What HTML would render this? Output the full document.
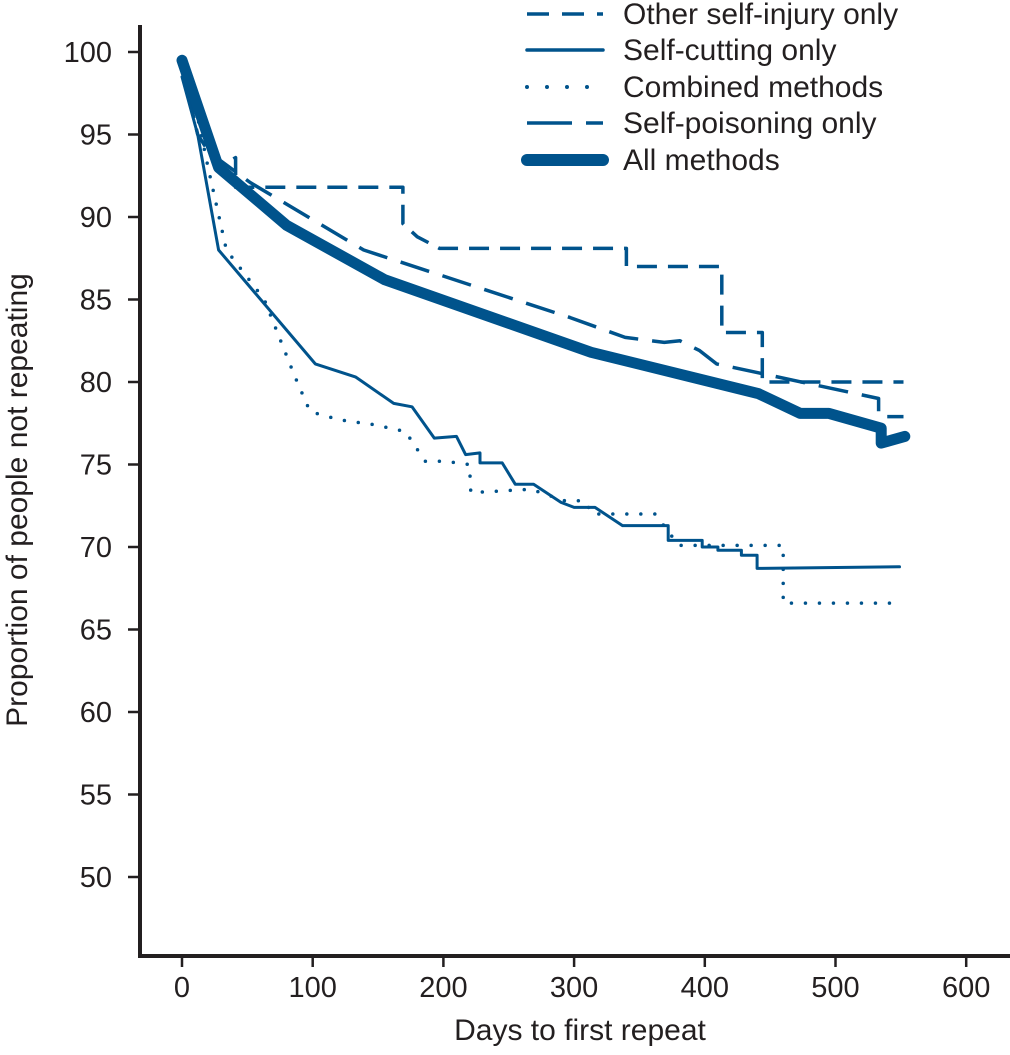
<!DOCTYPE html>
<html><head><meta charset="utf-8"><style>
html,body{margin:0;padding:0;background:#fff;}
svg text{font-family:"Liberation Sans Narrow","Liberation Sans",sans-serif;fill:#231f20;}
</style></head><body>
<svg id="chart" width="1010" height="1050" viewBox="0 0 1010 1050" xmlns="http://www.w3.org/2000/svg">
<g id="axes"></g>
<g id="series"></g>
<g id="legend"></g>
</svg>
<script>
const xTicks=[0,100,200,300,400,500,600];
const yTicks=[50,55,60,65,70,75,80,85,90,95,100];
const seriesNames=["Other self-injury only","Self-cutting only","Combined methods","Self-poisoning only","All methods"];
const otherDays=[0,12,28,41,41,50,169,169,180,197,340,340,413,413,444,444,552];
const otherVals=[99,95,93,93.6,91.8,91.8,91.8,89.6,88.8,88.1,88.1,87,87,83,83,80,80];
const cutDays=[0,12,28,102,133,162,176,193,210,217,228,228,245,255,269,290,300,316,337,372,372,398,398,410,410,428,428,440,440,549];
const cutVals=[98.5,95,88,81.1,80.3,78.7,78.5,76.6,76.7,75.6,75.7,75.1,75.1,73.8,73.8,72.7,72.4,72.4,71.3,71.3,70.4,70.4,70,70,69.8,69.8,69.5,69.5,68.7,68.8];
const combDays=[0,12,20,34,63,86,98,121,148,171,186,201,220,221,267,293,308,314,362,380,460,460,550];
const combVals=[99,96,93,88,85,80.4,78.2,77.7,77.4,77,75.2,75.2,75,73.3,73.5,72.8,72.8,72,72,70.1,70.1,66.6,66.6];
const poisDays=[0,28,52,139,297,339,369,381,396,409,533,533,552];
const poisVals=[99,93.5,92.1,88,83.9,82.7,82.4,82.5,81.9,81.1,79,77.9,77.9];
const allDays=[0,28,80,155,313,441,473,495,535,535,553];
const allVals=[99.5,93,89.5,86.2,81.8,79.3,78.1,78.1,77.2,76.3,76.7];

const X=d=>182+d*1.307;
const Y=v=>52+(100-v)*16.5;
const NS="http://www.w3.org/2000/svg";
function mk(tag,attrs,parent){const e=document.createElementNS(NS,tag);for(const k in attrs)e.setAttribute(k,attrs[k]);parent.appendChild(e);return e;}
const axes=document.getElementById('axes');
const C="#231f20",B="#00538c";
let a=mk('line',{x1:140,y1:25,x2:140,y2:958,stroke:C,'stroke-width':4},axes);


a=mk('line',{x1:138,y1:956,x2:1010,y2:956,stroke:C,'stroke-width':4},axes);


xTicks.forEach(t=>{
  const l=mk('line',{x1:X(t),y1:956,x2:X(t),y2:967,stroke:C,'stroke-width':2.5},axes);
  
  
  const tx=mk('text',{x:X(t),y:997,'text-anchor':'middle','font-size':29},axes);tx.textContent=t;
  
  
});
yTicks.forEach(t=>{
  const l=mk('line',{x1:128,y1:Y(t),x2:140,y2:Y(t),stroke:C,'stroke-width':2.5},axes);
  
  
  const tx=mk('text',{x:112,y:Y(t)+10,'text-anchor':'end','font-size':29},axes);tx.textContent=t;
  
  
});
let tt=mk('text',{x:580,y:1040,'text-anchor':'middle','font-size':30},axes);tt.textContent="Days to first repeat";


tt=mk('text',{x:0,y:0,'text-anchor':'middle','font-size':30,transform:'translate(27,500) rotate(-90)'},axes);tt.textContent="Proportion of people not repeating";



const styles=[
 {d:otherDays,v:otherVals,w:3.5,dash:'20 11',cap:'butt',name:'other-self-injury-line'},
 {d:cutDays,v:cutVals,w:3,dash:'',cap:'round',name:'self-cutting-line'},
 {d:combDays,v:combVals,w:3.5,dash:'0 14',cap:'round',name:'combined-methods-line'},
 {d:poisDays,v:poisVals,w:3.5,dash:'30 14',cap:'butt',name:'self-poisoning-line'},
 {d:allDays,v:allVals,w:11,dash:'',cap:'round',name:'all-methods-line'}
];
const sg=document.getElementById('series');
styles.forEach(s=>{
  const pts=s.d.map((d,i)=>X(d).toFixed(1)+','+Y(s.v[i]).toFixed(1)).join(' ');
  const p=mk('polyline',{points:pts,fill:'none',stroke:B,'stroke-width':s.w,'stroke-linecap':s.cap,'stroke-linejoin':'round'},sg);
  if(s.dash)p.setAttribute('stroke-dasharray',s.dash);
  
  
});
const lg=document.getElementById('legend');
const legY=[14,50,87,123,160];
const legSt=[
 {w:3.5,dash:'22 13',cap:'butt'},{w:3.5,dash:'',cap:'round'},{w:4,dash:'0 20',cap:'round'},{w:3.5,dash:'45 14',cap:'butt'},{w:12,dash:'',cap:'round'}
];
seriesNames.forEach((n,i)=>{
  const g=mk('g',{},lg);
  
  
  const s=legSt[i];
  const l=mk('line',{x1:527,y1:legY[i],x2:603,y2:legY[i],stroke:B,'stroke-width':s.w,'stroke-linecap':s.cap},g);
  if(s.dash)l.setAttribute('stroke-dasharray',s.dash);
  
  
  const t=mk('text',{x:623,y:legY[i]+10,'font-size':30},g);t.textContent=n;
  
  
});
</script>
</body></html>
